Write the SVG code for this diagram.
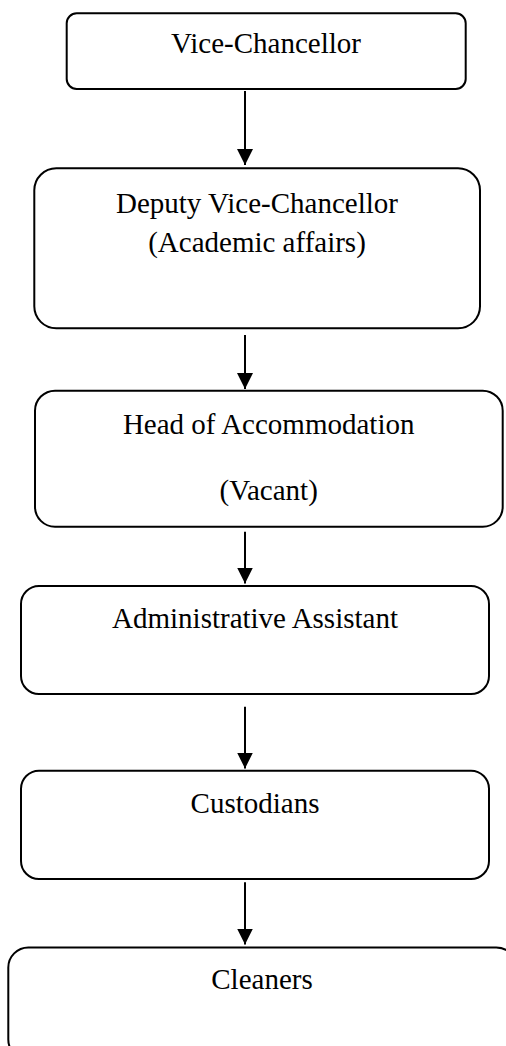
<svg xmlns="http://www.w3.org/2000/svg" width="506" height="1046" viewBox="0 0 506 1046">
<style>
.box{fill:#fff;stroke:#000;stroke-width:2}
.lbl{font-family:"Liberation Serif","Times New Roman",serif;font-size:29px;fill:#000;text-anchor:middle}
.conn{stroke:#000;stroke-width:2;fill:none}
</style>
<defs>
<marker id="ah" viewBox="0 0 10 10" refX="10" refY="5" markerWidth="16" markerHeight="16" markerUnits="userSpaceOnUse" orient="auto">
<path d="M0,0 L10,5 L0,10 z" fill="#000"/>
</marker>
</defs>
<rect width="506" height="1046" fill="#fff"/>
<g id="n1">
<rect class="box" x="66.7" y="13.3" width="399" height="75.7" rx="10"/>
<text class="lbl" x="266" y="53">Vice-Chancellor</text>
</g>
<g id="n2">
<rect class="box" x="34.3" y="168.3" width="445.7" height="160" rx="22"/>
<text class="lbl" x="257" y="213">Deputy Vice-Chancellor</text>
<text class="lbl" x="257" y="252">(Academic affairs)</text>
</g>
<g id="n3">
<rect class="box" x="35" y="390.7" width="467.7" height="136" rx="20"/>
<text class="lbl" x="268.7" y="434">Head of Accommodation</text>
<text class="lbl" x="268.7" y="500">(Vacant)</text>
</g>
<g id="n4">
<rect class="box" x="21" y="586" width="468" height="108" rx="18"/>
<text class="lbl" x="255" y="628">Administrative Assistant</text>
</g>
<g id="n5">
<rect class="box" x="21" y="770.7" width="468" height="108.3" rx="18"/>
<text class="lbl" x="255" y="813">Custodians</text>
</g>
<g id="n6">
<rect class="box" x="8.3" y="947.5" width="508" height="112" rx="20"/>
<text class="lbl" x="262" y="989">Cleaners</text>
</g>
<g id="connectors">
<line class="conn" x1="245" y1="91" x2="245" y2="165" marker-end="url(#ah)"/>
<line class="conn" x1="245" y1="335" x2="245" y2="389" marker-end="url(#ah)"/>
<line class="conn" x1="245" y1="531.7" x2="245" y2="583.5" marker-end="url(#ah)"/>
<line class="conn" x1="245" y1="706.7" x2="245" y2="768.5" marker-end="url(#ah)"/>
<line class="conn" x1="245" y1="882.3" x2="245" y2="944.5" marker-end="url(#ah)"/>
</g>
</svg>
